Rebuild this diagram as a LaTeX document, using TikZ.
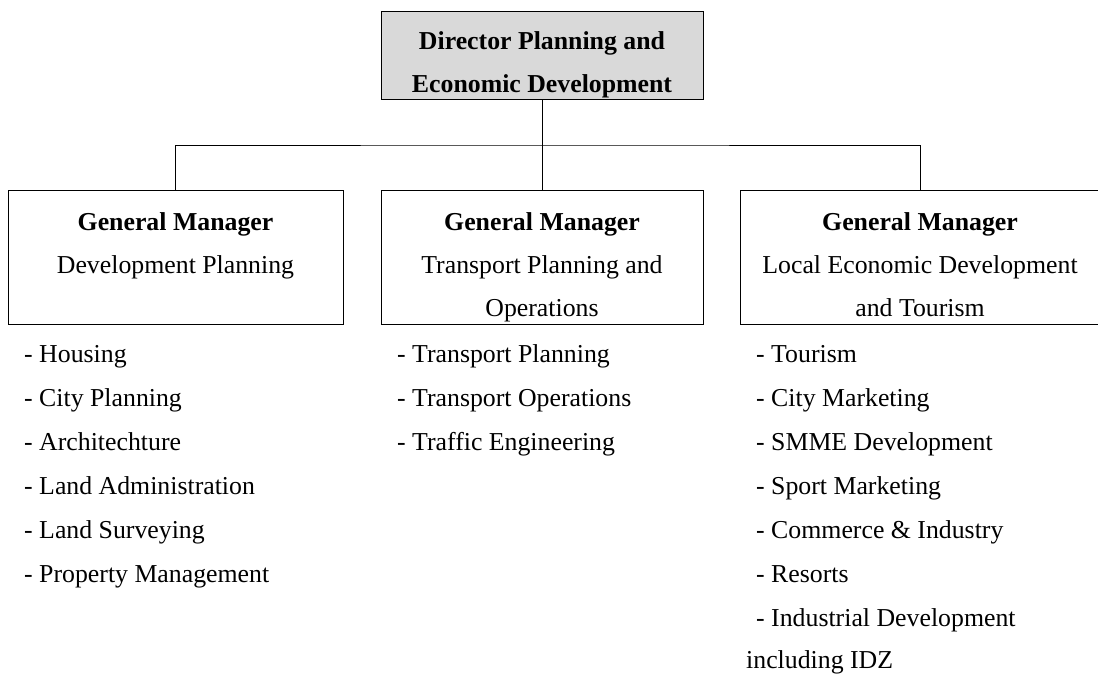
\documentclass[tikz,border=0pt]{standalone}
\usepackage{fontspec}
\setmainfont{Liberation Serif}
\definecolor{headfill}{RGB}{217,217,217}
\tikzset{
  box/.style={draw=black, line width=0.8pt, inner sep=0pt},
  conn/.style={draw=black, line width=0.8pt},
  txt/.style={inner sep=0pt, font=\fontsize{25.8}{30}\selectfont},
  btxt/.style={inner sep=0pt, font=\fontsize{25.8}{30}\selectfont\bfseries},
  item/.style={inner sep=0pt, anchor=base west, font=\fontsize{25.8}{30}\selectfont},
}
\begin{document}
\begin{tikzpicture}[x=1pt,y=-1pt]
\useasboundingbox (0,0) rectangle (1098,675);
% boxes
\node[box, fill=headfill, minimum width=322pt, minimum height=88pt] (dir) at (542,55) {};
\node[box, minimum width=335pt, minimum height=134pt] (gm1) at (175.5,257) {};
\node[box, minimum width=322pt, minimum height=134pt] (gm2) at (542,257) {};
\node[box, minimum width=360pt, minimum height=134pt] (gm3) at (920,257) {};
% connectors
\coordinate (j) at (542,145);
\draw[conn] (dir.south) -- (gm2.north);
\draw[conn] (gm1.north) |- (j) -| (gm3.north);
% director text
\node[btxt, anchor=base] (d1) at (542,49) {Director Planning and};
\node[btxt, anchor=base] (d2) at (542,92) {Economic Development};
% box texts
\node[btxt, anchor=base] (g1a) at (175.5,230) {General Manager};
\node[txt, anchor=base] (g1b) at (175.5,273) {Development Planning};
\node[btxt, anchor=base] (g2a) at (542,230) {General Manager};
\node[txt, anchor=base] (g2b) at (542,273) {Transport Planning and};
\node[txt, anchor=base] (g2c) at (542,316) {Operations};
\node[btxt, anchor=base] (g3a) at (920,230) {General Manager};
\node[txt, anchor=base] (g3b) at (920,273) {Local Economic Development};
\node[txt, anchor=base] (g3c) at (920,316) {and Tourism};
% left list
\node[item] (l1) at (24,362) {- Housing};
\node[item] (l2) at (24,406) {- City Planning};
\node[item] (l3) at (24,450) {- Architechture};
\node[item] (l4) at (24,494) {- Land Administration};
\node[item] (l5) at (24,538) {- Land Surveying};
\node[item] (l6) at (24,582) {- Property Management};
% middle list
\node[item] (m1) at (397,362) {- Transport Planning};
\node[item] (m2) at (397,406) {- Transport Operations};
\node[item] (m3) at (397,450) {- Traffic Engineering};
% right list
\node[item] (r1) at (756,362) {- Tourism};
\node[item] (r2) at (756,406) {- City Marketing};
\node[item] (r3) at (756,450) {- SMME Development};
\node[item] (r4) at (756,494) {- Sport Marketing};
\node[item] (r5) at (756,538) {- Commerce \& Industry};
\node[item] (r6) at (756,582) {- Resorts};
\node[item] (r7) at (756,626) {- Industrial Development};
\node[item] (r8) at (746,668.5) {including IDZ};
\end{tikzpicture}
\end{document}
